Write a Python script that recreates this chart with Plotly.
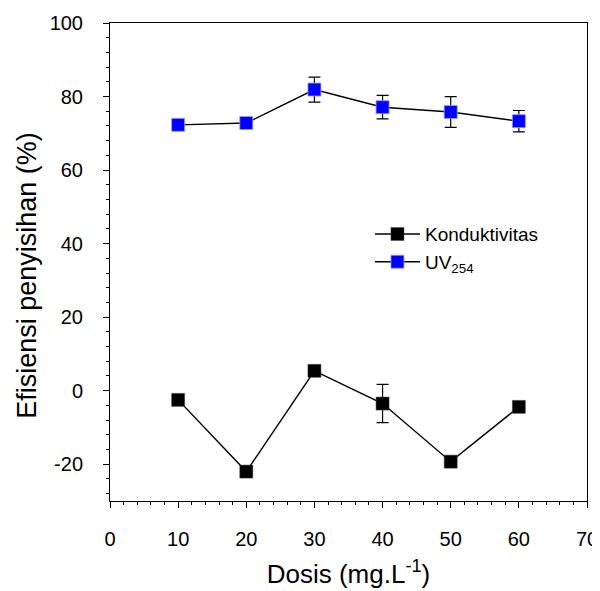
import plotly.graph_objects as go

dosis = [10, 20, 30, 40, 50, 60]
konduktivitas = [-2.5, -22.0, 5.4, -3.5, -19.3, -4.4]
konduktivitas_err = [0, 0, 0, 5.2, 0, 0]
uv254 = [72.3, 72.8, 81.9, 77.1, 75.8, 73.3]
uv254_err = [0, 0, 3.4, 3.2, 4.2, 2.9]
y_tickvals = [-20, 0, 20, 40, 60, 80, 100]
y_ticktext = ["-20", "0", "20", "40", "60", "80", "100"]

fig = go.Figure()
fig.add_trace(go.Scatter(
    x=dosis, y=konduktivitas, mode="lines+markers", name="Konduktivitas",
    line=dict(color="black", width=1.4),
    marker=dict(symbol="square", size=13, color="black", line=dict(color="#444", width=0.5)),
    error_y=dict(type="data", array=konduktivitas_err, color="black", thickness=1.2, width=6, visible=True),
))
fig.add_trace(go.Scatter(
    x=dosis, y=uv254, mode="lines+markers", name="UV<sub>254</sub>",
    line=dict(color="black", width=1.4),
    marker=dict(symbol="square", size=13, color="#0000ff", line=dict(color="#9999ff", width=0.8)),
    error_y=dict(type="data", array=uv254_err, color="black", thickness=1.2, width=6, visible=True),
))

fig.update_layout(
    width=592, height=583,
    margin=dict(l=102, r=13, t=15, b=90),
    plot_bgcolor="white", paper_bgcolor="white",
    font=dict(family="Arial, Liberation Sans, sans-serif", color="black", size=20),
    showlegend=True,
    legend=dict(x=0.545, y=0.598, xanchor="left", yanchor="top",
                bgcolor="rgba(0,0,0,0)", font=dict(size=19), tracegroupgap=0,
                itemwidth=45),
    annotations=[dict(
        text="Efisiensi penyisihan (%)", textangle=-90, showarrow=False,
        xref="paper", yref="paper", x=-0.174, y=0.471,
        xanchor="center", yanchor="middle", font=dict(size=27),
    )],
)
fig.update_xaxes(
    range=[0, 70], dtick=10, tick0=0, showgrid=False, zeroline=False,
    showline=True, linecolor="black", linewidth=1, mirror=True, automargin=False,
    ticks="outside", ticklen=6, tickcolor="black", ticklabelstandoff=14,
    minor=dict(dtick=2, ticks="outside", ticklen=3, tickcolor="black"),
    title=dict(text="Dosis (mg.L<sup>-1</sup>)", font=dict(size=26)),
)
fig.update_yaxes(
    range=[-30, 100], tickmode="array", tickvals=y_tickvals, ticktext=y_ticktext,
    showgrid=False, zeroline=False,
    showline=True, linecolor="black", linewidth=1, mirror=True, automargin=False,
    ticks="outside", ticklen=6, tickcolor="black", ticklabelstandoff=16,
    minor=dict(tick0=0, dtick=4, ticks="outside", ticklen=3, tickcolor="black"),
)

fig.write_html("out.html")
